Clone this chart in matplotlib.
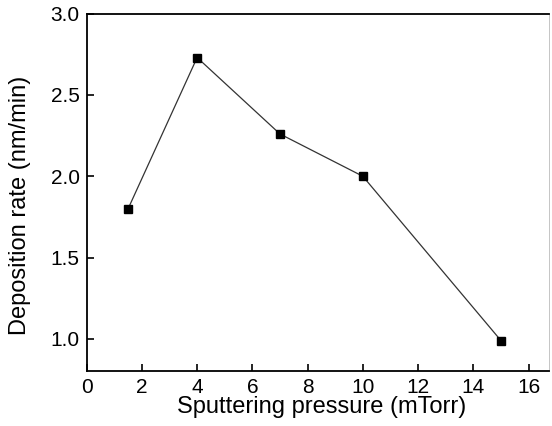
import matplotlib
matplotlib.use("Agg")
import matplotlib.pyplot as plt

pressure = [1.5, 4, 7, 10, 15]
rate = [1.80, 2.73, 2.26, 2.00, 0.99]
xticks = [0, 2, 4, 6, 8, 10, 12, 14, 16]
yticks = [1.0, 1.5, 2.0, 2.5, 3.0]

plt.rcParams['font.family'] = ['Liberation Sans', 'DejaVu Sans']
fig = plt.figure(figsize=(5.52, 4.26), dpi=100)
ax = fig.add_axes([0.157, 0.13, 0.838, 0.838])
ax.plot(pressure, rate, color='#333333', lw=0.9, marker='s', markersize=5.5,
        markerfacecolor='black', markeredgecolor='black')
ax.set_xlim(0, 16.75)
ax.set_ylim(0.805, 3.0)
ax.set_xticks(xticks)
ax.set_xticklabels([str(t) for t in xticks])
ax.set_yticks(yticks)
ax.set_yticklabels([f"{t:.1f}" for t in yticks])
ax.tick_params(direction='in', length=5, width=1.2, labelsize=15, pad=5, colors='black')
for s in ax.spines.values():
    s.set_linewidth(1.3)
ax.spines['right'].set_linewidth(0.6)
ax.spines['right'].set_color('#bbbbbb')
ax.set_xlabel('Sputtering pressure (mTorr)', fontsize=17)
ax.set_ylabel('Deposition rate (nm/min)', fontsize=17)
ax.xaxis.set_label_coords(0.509, -0.072)
ax.yaxis.set_label_coords(-0.12, 0.464)
fig.savefig('out.png', dpi=100)
